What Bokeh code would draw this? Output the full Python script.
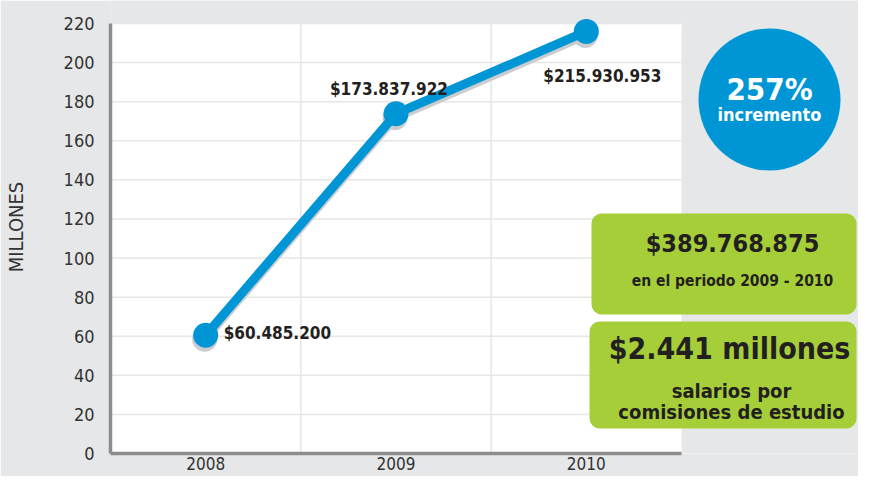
from bokeh.plotting import figure
from bokeh.models import Range1d, FixedTicker, ColumnDataSource, Label, BoxAnnotation
from bokeh.transform import dodge
from bokeh.core.properties import value
from bokeh.embed import file_html
from bokeh.resources import INLINE

# ---------------- data ----------------
years = ["2008", "2009", "2010"]
millones = [60.4852, 173.837922, 215.930953]
value_labels = ["$60.485.200", "$173.837.922", "$215.930.953"]
y_ticks = [0, 20, 40, 60, 80, 100, 120, 140, 160, 180, 200, 220]
y_axis_title = "MILLONES"
circle_big = "257%"
circle_small = "incremento"
box1_big = "$389.768.875"
box1_small = "en el periodo 2009 - 2010"
box2_big = "$2.441 millones"
box2_lines = ["salarios por", "comisiones de estudio"]

# ---------------- styles / layout ----------------
FONT = "DejaVu Sans Condensed"
BG = "#e6e7e8"
BLUE = "#0096d6"
GREEN = "#a6ce39"
DARK = "#231f20"
SHADOW = "#cbcccf"
AXIS = "#8c8c8c"
GRID = "#e6e6e6"

FRAME_LEFT = 109
FRAME_W = 748
FRAME_H = 453
BOTTOM = 23
PX_X = 190.33                 # px per category
PX_Y = 1.9545                 # px per million
Y_TOP = y_ticks[-1]
X_START = -0.5
X_END = X_START + FRAME_W / PX_X
Y_END = FRAME_H / PX_Y

def dx(px):
    return X_START + (px - FRAME_LEFT) / PX_X

def dy(py):
    return (FRAME_H - py) / PX_Y

xs = list(range(len(years)))
x_last = len(years) - 0.5

p = figure(frame_width=FRAME_W, frame_height=FRAME_H,
           output_backend="svg", toolbar_location=None,
           x_range=Range1d(X_START, X_END), y_range=Range1d(0, Y_END),
           min_border_left=FRAME_LEFT, min_border_right=0, min_border_top=0,
           min_border_bottom=BOTTOM)
p.background_fill_color = BG
p.border_fill_color = BG
p.outline_line_color = None
p.xgrid.visible = False
p.ygrid.visible = False

# white plotting area
p.quad(left=[X_START], right=[x_last], bottom=[0], top=[Y_TOP],
       fill_color="white", line_color=None)
# grid lines
p.segment(x0=[X_START] * (len(y_ticks) - 1), x1=[x_last] * (len(y_ticks) - 1),
          y0=y_ticks[1:], y1=y_ticks[1:], line_color=GRID, line_width=1.5)
vx = [i + 0.5 for i in xs[:-1]]
p.segment(x0=vx, x1=vx, y0=[0] * len(vx), y1=[Y_TOP] * len(vx),
          line_color=GRID, line_width=1.5)

src = ColumnDataSource(dict(
    x=xs, y=millones, label=value_labels,
    dx=[18, -7, 16], dy=[-2, -25, 45],
    align=["left", "center", "center"],
))

# shadow
p.line(x=dodge("x", -1 / PX_X), y=dodge("y", -4 / PX_Y), source=src,
       line_color=SHADOW, line_width=9)
p.scatter(x=dodge("x", -1 / PX_X), y=dodge("y", -4 / PX_Y), source=src,
          size=25, fill_color=SHADOW, line_color=None)
# main line
p.line(x="x", y="y", source=src, line_color=BLUE, line_width=9, line_join="round")
p.scatter(x="x", y="y", source=src, size=25, fill_color=BLUE, line_color=None)

p.text(x="x", y="y", text="label", x_offset="dx", y_offset="dy",
       text_align="align", text_baseline="middle", source=src,
       text_font=value(FONT), text_font_style="bold", text_font_size="17px",
       text_color=DARK)

# axes
p.xaxis.ticker = FixedTicker(ticks=xs)
p.xaxis.major_label_overrides = {i: y for i, y in zip(xs, years)}
p.xaxis.bounds = (X_START, x_last)
p.yaxis.ticker = FixedTicker(ticks=y_ticks)
p.yaxis.bounds = (0, Y_TOP)
p.yaxis.axis_label = y_axis_title
for ax in (p.xaxis, p.yaxis):
    ax.axis_line_color = AXIS
    ax.axis_line_width = 3.5
    ax.major_tick_line_color = None
    ax.minor_tick_line_color = None
    ax.major_tick_out = 0
    ax.major_tick_in = 0
    ax.major_label_text_font = FONT
    ax.major_label_text_color = "#333333"
p.xaxis.major_label_text_font_size = "17px"
p.yaxis.major_label_text_font_size = "18px"
p.xaxis.major_label_standoff = 3
p.yaxis.major_label_standoff = 16
p.yaxis.axis_label_text_font = FONT
p.yaxis.axis_label_text_font_size = "20px"
p.yaxis.axis_label_text_font_style = "normal"
p.yaxis.axis_label_text_color = "#333333"
p.yaxis.axis_label_standoff = 33

# blue circle badge
p.scatter(x=[dx(768)], y=[dy(99)], size=142, fill_color=BLUE, line_color=None)
p.add_layout(Label(x=dx(768), y=dy(88), text=circle_big, text_align="center",
                   text_baseline="middle", text_font=FONT, text_font_style="bold",
                   text_font_size="31px", text_color="white"))
p.add_layout(Label(x=dx(768), y=dy(114), text=circle_small, text_align="center",
                   text_baseline="middle", text_font=FONT, text_font_style="bold",
                   text_font_size="18px", text_color="white"))

# green boxes
p.add_layout(BoxAnnotation(left=dx(590), right=dx(855), top=dy(213), bottom=dy(314),
                           fill_color=GREEN, fill_alpha=1, line_color=None,
                           border_radius=10))
p.add_layout(BoxAnnotation(left=dx(588), right=dx(855), top=dy(321), bottom=dy(428),
                           fill_color=GREEN, fill_alpha=1, line_color=None,
                           border_radius=10))

p.add_layout(Label(x=dx(731), y=dy(243), text=box1_big, text_align="center",
                   text_baseline="middle", text_font=FONT, text_font_style="bold",
                   text_font_size="25px", text_color=DARK))
p.add_layout(Label(x=dx(731), y=dy(280), text=box1_small, text_align="center",
                   text_baseline="middle", text_font=FONT, text_font_style="bold",
                   text_font_size="15.5px", text_color=DARK))
p.add_layout(Label(x=dx(728), y=dy(348), text=box2_big, text_align="center",
                   text_baseline="middle", text_font=FONT, text_font_style="bold",
                   text_font_size="30px", text_color=DARK))
for i, line in enumerate(box2_lines):
    p.add_layout(Label(x=dx(730), y=dy(390 + 21 * i), text=line, text_align="center",
                       text_baseline="middle", text_font=FONT, text_font_style="bold",
                       text_font_size="20px", text_color=DARK))

open("out.html", "w").write(file_html(p, INLINE))
